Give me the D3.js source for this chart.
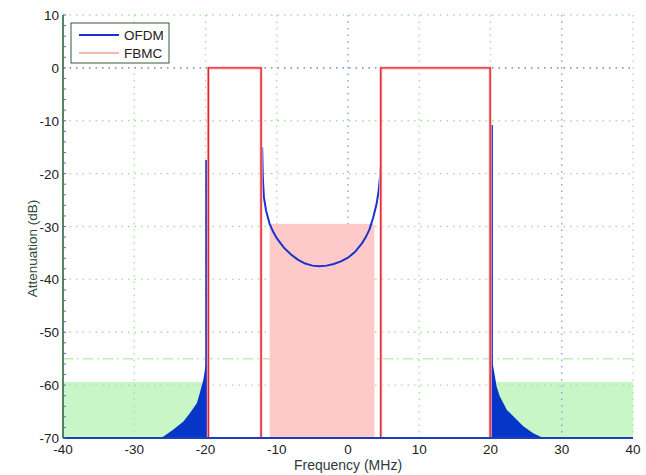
<!DOCTYPE html>
<meta charset="utf-8">
<title>OFDM / FBMC spectrum</title>
<style>
  body { margin: 0; background: #fff; }
  text { font-family: "Liberation Sans", Arial, sans-serif; }
</style>
<body>
<script src="https://d3js.org/d3.v7.min.js"></script>
<div id="chart"></div>
<script>
// tick values
var freqTicks = [-40, -30, -20, -10, 0, 10, 20, 30, 40];
var dbTicks = [10, 0, -10, -20, -30, -40, -50, -60, -70];

// FBMC: two passbands at 0 dB and the filled part in the gap
var fbmcBands = [[-19.6, -12.2], [4.6, 19.95]];
var fbmcGap = [-11, 3.7];
var fbmcGapLevel = -29.5;

// OFDM leakage curve inside the gap
var ofdmGapFreq = [-12.05, -11.95, -11.8, -11.5, -11, -10.5, -10, -9, -8, -7, -6, -5, -4, -3, -2, -1, 0, 1, 2, 2.5, 3, 3.5, 4, 4.3, 4.5, 4.6];
var ofdmGapDb   = [-15, -21, -24.5, -27, -29.5, -31, -32.2, -34, -35.3, -36.3, -37, -37.4, -37.5, -37.4, -37.1, -36.6, -35.9, -34.8, -33.1, -32, -30.6, -28.5, -25.8, -23.3, -20.5, -18.5];

// OFDM outer band edges (freq, top of visible edge)
var ofdmEdgeFreq = [-19.9, 20.2];
var ofdmEdgeTop = [-17.4, -10.8];

// OFDM sidelobe envelopes outside the band
var leftLobeFreq = [-19.9, -20.3, -20.8, -21.2, -22.2, -23.1, -24.5, -25.9, -26.4];
var leftLobeDb   = [-55.5, -59, -61.5, -63.4, -65.3, -66.9, -68.4, -69.7, -70];
var rightLobeFreq = [20.2, 20.3, 20.87, 21.3, 22.3, 23.2, 24.6, 26.0, 27.4];
var rightLobeDb   = [-54, -55.8, -60.3, -62.1, -64.7, -65.9, -67.8, -69.1, -70];

// spectral mask areas and limit line
var maskRanges = [[-40, -20.2], [20.4, 40]];
var maskLevel = -59.4;
var limitLevel = -55;

var W = 646, H = 475;
var pL = 63, pR = 633, pT = 15, pB = 438;

var svg = d3.select("#chart").append("svg")
  .attr("width", W).attr("height", H);

var x = d3.scaleLinear().domain([-40, 40]).range([pL, pR]);
var y = d3.scaleLinear().domain([-70, 10]).range([pB, pT]);

// mask areas
svg.selectAll("rect.mask").data(maskRanges).enter().append("rect")
  .attr("class", "mask")
  .attr("x", d => x(d[0]))
  .attr("width", d => x(d[1]) - x(d[0]))
  .attr("y", y(maskLevel))
  .attr("height", y(-70) - y(maskLevel))
  .attr("fill", "#c9f6c6");

// grid
svg.selectAll("line.hgrid").data(dbTicks).enter().append("line")
  .attr("x1", pL).attr("x2", pR)
  .attr("y1", d => y(d)).attr("y2", d => y(d))
  .attr("stroke", d => d === 0 ? "#4a6fd0" : "#a6e0a0")
  .attr("stroke-width", 1.3)
  .attr("stroke-dasharray", "1.5,5");
svg.selectAll("line.vgrid").data(freqTicks.slice(1)).enter().append("line")
  .attr("y1", pT).attr("y2", pB)
  .attr("x1", d => x(d)).attr("x2", d => x(d))
  .attr("stroke", d => (d === 0 || d === 30) ? "#7d9ae0" : "#a6e0a0")
  .attr("stroke-width", 1.3)
  .attr("stroke-dasharray", "1.5,5");

// limit line
svg.append("line")
  .attr("x1", pL).attr("x2", pR)
  .attr("y1", y(limitLevel)).attr("y2", y(limitLevel))
  .attr("stroke", "#bdeeb6").attr("stroke-width", 1.5)
  .attr("stroke-dasharray", "10,4,2,4");

// FBMC gap fill
svg.append("rect")
  .attr("x", x(fbmcGap[0]))
  .attr("width", x(fbmcGap[1]) - x(fbmcGap[0]))
  .attr("y", y(fbmcGapLevel))
  .attr("height", y(-70) - y(fbmcGapLevel))
  .attr("fill", "#fdc9c9");

// OFDM sidelobes (dense, drawn as filled area)
var lobeArea = d3.area().x(d => x(d[0])).y0(y(-70)).y1(d => y(d[1]));
[[leftLobeFreq, leftLobeDb], [rightLobeFreq, rightLobeDb]].forEach(function(p) {
  svg.append("path")
    .datum(d3.zip(p[0], p[1]))
    .attr("d", lobeArea)
    .attr("fill", "#0636c8");
});

var line = d3.line().x(d => x(d[0])).y(d => y(d[1]));

// OFDM lines
var ofdmColor = "#1a32d0";
svg.append("path")
  .datum(d3.zip(ofdmGapFreq, ofdmGapDb))
  .attr("d", line)
  .attr("fill", "none").attr("stroke", ofdmColor).attr("stroke-width", 2);
ofdmEdgeFreq.forEach(function(f, i) {
  svg.append("path")
    .datum([[f, -70], [f, ofdmEdgeTop[i]]])
    .attr("d", line)
    .attr("fill", "none").attr("stroke", ofdmColor).attr("stroke-width", 2);
});

// FBMC passbands
fbmcBands.forEach(function(b) {
  var pts = [[b[0], -70], [b[0], 0], [b[1], 0], [b[1], -70]];
  svg.append("path").datum(pts).attr("d", line)
    .attr("fill", "none").attr("stroke", "#fbc4c4").attr("stroke-width", 3);
  svg.append("path").datum(pts).attr("d", line)
    .attr("fill", "none").attr("stroke", "#e8202a").attr("stroke-width", 1.4);
});

// axes
svg.append("line")
  .attr("x1", pL).attr("x2", pL).attr("y1", pT).attr("y2", pB)
  .attr("stroke", "#1f5a2a").attr("stroke-width", 1.5);
svg.append("line")
  .attr("x1", pL).attr("x2", pR).attr("y1", pB).attr("y2", pB)
  .attr("stroke", "#1f3fb8").attr("stroke-width", 1.8);

// minor ticks on left axis
svg.selectAll("line.minor").data(d3.range(-70, 10.01, 2)).enter().append("line")
  .attr("x1", pL).attr("x2", pL + 3)
  .attr("y1", d => y(d)).attr("y2", d => y(d))
  .attr("stroke", "#4a6fd0").attr("stroke-width", 1);

svg.selectAll("text.ytick").data(dbTicks).enter().append("text")
  .attr("x", pL - 4).attr("y", d => y(d) + 5)
  .attr("text-anchor", "end")
  .attr("font-size", 13.5).attr("fill", "#222")
  .text(d => d);
svg.selectAll("text.xtick").data(freqTicks).enter().append("text")
  .attr("x", d => x(d)).attr("y", pB + 16)
  .attr("text-anchor", "middle")
  .attr("font-size", 13.5).attr("fill", "#222")
  .text(d => d);

svg.append("text")
  .attr("transform", "translate(37," + ((pT + pB) / 2 + 22) + ") rotate(-90)")
  .attr("text-anchor", "middle")
  .attr("font-size", 13.5).attr("fill", "#2d4a3a")
  .text("Attenuation (dB)");
svg.append("text")
  .attr("x", x(0)).attr("y", 470)
  .attr("text-anchor", "middle")
  .attr("font-size", 14).attr("fill", "#2d3a3a")
  .text("Frequency (MHz)");

// legend
var legend = svg.append("g").attr("transform", "translate(71,23)");
legend.append("rect")
  .attr("width", 98).attr("height", 40)
  .attr("fill", "#fff").attr("stroke", "#3a5a3a").attr("stroke-width", 1);
var items = [["OFDM", ofdmColor], ["FBMC", "#f9b6b6"]];
items.forEach(function(it, i) {
  legend.append("line")
    .attr("x1", 8).attr("x2", 48)
    .attr("y1", 12 + i * 18).attr("y2", 12 + i * 18)
    .attr("stroke", it[1]).attr("stroke-width", 2);
  legend.append("text")
    .attr("x", 53).attr("y", 17 + i * 18)
    .attr("font-size", 13.5).attr("fill", "#222")
    .text(it[0]);
});
</script>
</body>
